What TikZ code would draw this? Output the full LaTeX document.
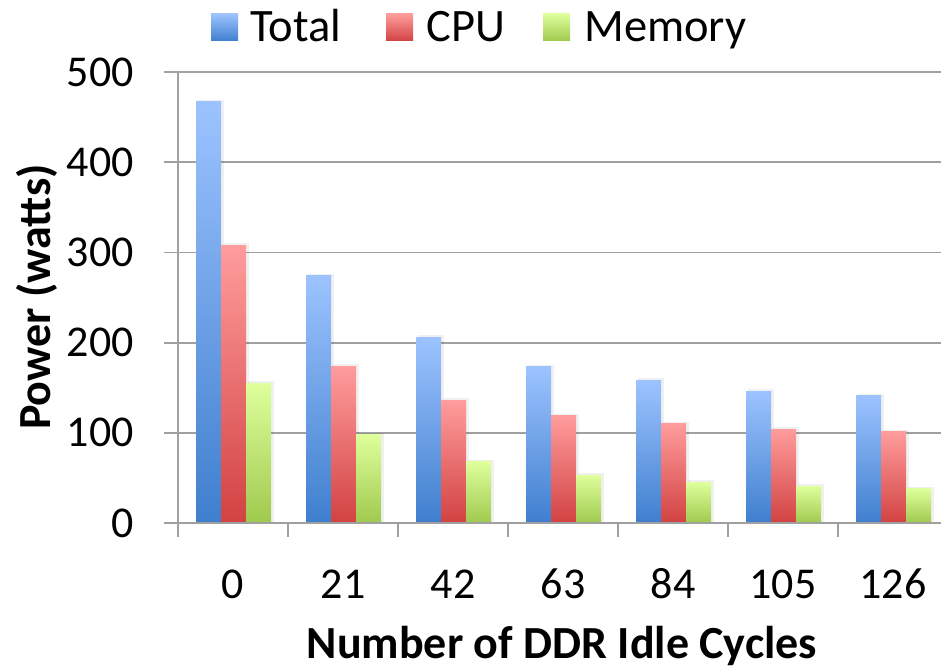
\documentclass[tikz,border=0pt]{standalone}
\usepackage{fontspec}
\setmainfont{Carlito}
\usetikzlibrary{positioning,calc}
\begin{document}
\begin{tikzpicture}[x=1pt,y=-1pt]
    \def\ybase{523}
    \def\vscale{0.902}
    \def\barw{25}
    \definecolor{coltotaltop}{HTML}{9CC3FF}
    \definecolor{coltotalbot}{HTML}{3F7FCE}
    \definecolor{colcputop}{HTML}{FF9C9C}
    \definecolor{colcpubot}{HTML}{D24242}
    \definecolor{colmemtop}{HTML}{DEFF9C}
    \definecolor{colmembot}{HTML}{A0C94E}
    \definecolor{colgrid}{HTML}{A0A0A0}
    \tikzstyle{gridln}=[colgrid,line width=1.8pt]
    \tikzstyle{bartotal}=[top color=coltotaltop,bottom color=coltotalbot]
    \tikzstyle{barcpu}=[top color=colcputop,bottom color=colcpubot]
    \tikzstyle{barmem}=[top color=colmemtop,bottom color=colmembot]
    \tikzstyle{barshadow}=[black,opacity=0.06]
    \tikzstyle{ticklab}=[inner sep=0pt,font=\fontsize{44}{52}\selectfont]
    \tikzstyle{legtext}=[inner sep=0pt,font=\fontsize{46.5}{54}\selectfont]
    \tikzstyle{legbox}=[inner sep=0pt,minimum size=27pt]
    \tikzstyle{axtitle}=[inner sep=0pt,font=\fontsize{46}{54}\selectfont\bfseries]
    \useasboundingbox (0,0) rectangle (941,669);
    % grid
    \foreach \v in {100,200,300,400,500}
        \draw[gridln] (164,{\ybase-\vscale*\v}) -- (941,{\ybase-\vscale*\v});
    \draw[gridln] (178,72) -- (178,537);
    % bars
    \foreach \i/\vt/\vc/\vm in {0/467/308/155,1/274/174/98,2/206/136/68,3/173/119/53,
                                4/158/110/45,5/146/104/41,6/141/101/38}{
        \pgfmathsetmacro\xs{178+110*\i+18}
        \fill[barshadow] (\xs+2,{\ybase-\vscale*\vt-2}) rectangle (\xs+\barw+3,\ybase);
        \fill[barshadow] (\xs+\barw+2,{\ybase-\vscale*\vc-2}) rectangle (\xs+2*\barw+3,\ybase);
        \fill[barshadow] (\xs+2*\barw+2,{\ybase-\vscale*\vm-2}) rectangle (\xs+3*\barw+3,\ybase);
        \path[bartotal] (\xs,\ybase) rectangle (\xs+\barw,{\ybase-\vscale*\vt});
        \path[barcpu] (\xs+\barw,\ybase) rectangle (\xs+2*\barw,{\ybase-\vscale*\vc});
        \path[barmem] (\xs+2*\barw,\ybase) rectangle (\xs+3*\barw,{\ybase-\vscale*\vm});
    }
    % x axis
    \draw[gridln] (164,\ybase) -- (941,\ybase);
    \foreach \i in {1,...,6}
        \draw[gridln] (178+110*\i,\ybase) -- (178+110*\i,537);
    % y labels
    \foreach \v in {0,100,200,300,400,500}
        \node[ticklab,anchor=east] (ylab\v) at (134,{\ybase-\vscale*\v}) {\v};
    % x labels
    \foreach \c [count=\i from 0] in {0,21,42,63,84,105,126}
        \node[ticklab,anchor=base] (xlab\c) at (233+110*\i,598) {\c};
    % titles
    \node[axtitle,anchor=base] (xtitle) at (562,658) {Number of DDR Idle Cycles};
    \node[axtitle,anchor=base,rotate=90] (ytitle) at (50,297) {Power (watts)};
    % legend
    \node[legbox,bartotal] (legtotal) at (224.5,27.5) {};
    \node[legtext,right=12pt of legtotal.south east,anchor=base west] (txttotal) {Total};
    \node[legbox,barcpu] (legcpu) at (399.5,27.5) {};
    \node[legtext,right=13pt of legcpu.south east,anchor=base west] (txtcpu) {CPU};
    \node[legbox,barmem] (legmem) at (556.5,27.5) {};
    \node[legtext,right=14pt of legmem.south east,anchor=base west] (txtmem) {Memory};
\end{tikzpicture}
\end{document}
